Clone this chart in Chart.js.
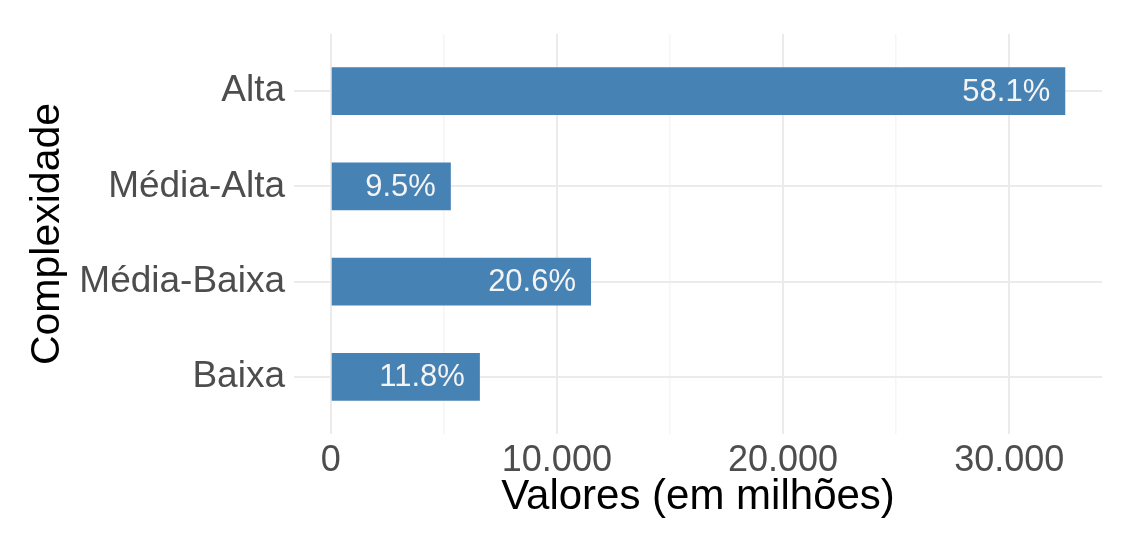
<!DOCTYPE html>
<html>
<head>
<meta charset="utf-8">
<script src="https://cdn.jsdelivr.net/npm/chart.js@4"></script>
<style>
  html, body { margin: 0; padding: 0; background: #ffffff; }
  canvas { display: block; }
</style>
</head>
<body>
<canvas id="complexChart" width="1141" height="542"></canvas>
<script>
// --- Data ---
const categories = ['Alta', 'Média-Alta', 'Média-Baixa', 'Baixa'];
const values = [32480, 5310, 11510, 6595]; // em milhões
const xTicks = [0, 5000, 10000, 15000, 20000, 25000, 30000];

const total = values.reduce((a, b) => a + b, 0);
const pctLabels = values.map(v => (v / total * 100).toFixed(1) + '%');

// ggplot-like 5% expansion around the data range
const maxVal = Math.max(...values);
const xMin = -0.05 * maxVal;
const xMax = maxVal * 1.05;

const FONT = "'Liberation Sans', Arial, sans-serif";

function fmtThousands(v) {
    return String(v).replace(/\B(?=(\d{3})+(?!\d))/g, '.');
}

// white percentage labels inside the bar ends
const barLabels = {
    id: 'barLabels',
    afterDatasetsDraw(chart) {
        const ctx = chart.ctx;
        const meta = chart.getDatasetMeta(0);
        ctx.save();
        ctx.font = '31px ' + FONT;
        ctx.fillStyle = '#f4f4f4';
        ctx.textAlign = 'right';
        ctx.textBaseline = 'middle';
        meta.data.forEach((bar, i) => {
            ctx.fillText(pctLabels[i], bar.x - 15, bar.y + 1);
        });
        ctx.restore();
    }
};

const ctx = document.getElementById('complexChart').getContext('2d');
new Chart(ctx, {
    type: 'bar',
    data: {
        datasets: [{
            data: categories.map((c, i) => ({ x: values[i], y: i })),
            backgroundColor: '#4682B4',
            borderWidth: 0,
            barPercentage: 0.5,
            categoryPercentage: 1
        }]
    },
    options: {
        indexAxis: 'y',
        responsive: false,
        animation: false,
        layout: { padding: { top: 34, right: 39, left: 0, bottom: 0 } },
        plugins: {
            legend: { display: false },
            tooltip: { enabled: false }
        },
        scales: {
            x: {
                type: 'linear',
                min: xMin,
                max: xMax,
                afterBuildTicks: (scale) => { scale.ticks = xTicks.map(v => ({ value: v })); },
                afterFit: (scale) => { scale.height = 108; },
                border: { display: false },
                grid: {
                    drawTicks: false,
                    color: (c) => (c.tick && c.tick.value % 10000 === 0) ? '#ebebeb' : '#f5f5f5',
                    lineWidth: (c) => (c.tick && c.tick.value % 10000 === 0) ? 2 : 1.5
                },
                ticks: {
                    padding: 5,
                    color: '#4d4d4d',
                    font: { family: FONT, size: 36 },
                    maxRotation: 0,
                    autoSkip: false,
                    callback: (v) => v % 10000 === 0 ? fmtThousands(v) : ''
                },
                title: {
                    display: true,
                    text: 'Valores (em milhões)',
                    color: '#000000',
                    font: { family: FONT, size: 42 },
                    padding: { top: 0, bottom: 19 }
                }
            },
            y: {
                type: 'linear',
                reverse: true,
                offset: false,
                min: -0.6,
                max: categories.length - 0.4,
                afterBuildTicks: (scale) => { scale.ticks = categories.map((c, i) => ({ value: i })); },
                afterFit: (scale) => { scale.width = 294; },
                border: { display: false },
                grid: {
                    offset: false,
                    drawTicks: false,
                    color: '#ebebeb',
                    lineWidth: 2
                },
                ticks: {
                    padding: 9,
                    color: '#4d4d4d',
                    font: { family: FONT, size: 37 },
                    autoSkip: false,
                    callback: (v) => categories[v]
                },
                title: {
                    display: true,
                    text: 'Complexidade',
                    color: '#000000',
                    font: { family: FONT, size: 41 },
                    padding: { top: 23, bottom: 0 }
                }
            }
        }
    },
    plugins: [barLabels]
});
</script>
</body>
</html>
